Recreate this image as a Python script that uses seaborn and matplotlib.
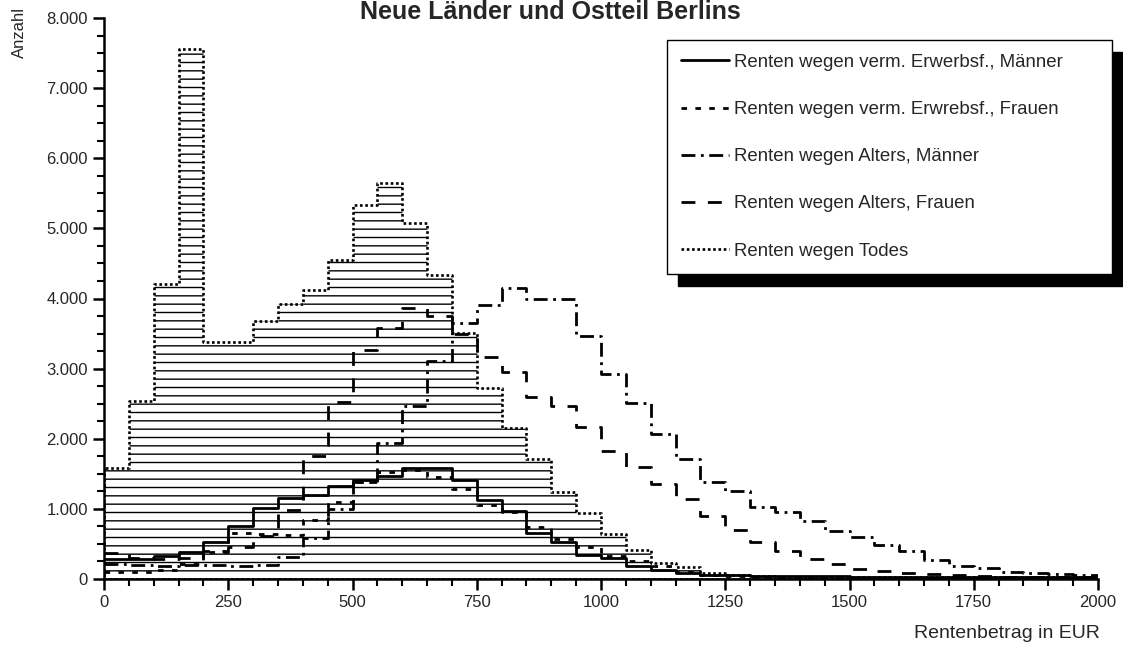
import numpy as np
import pandas as pd
import matplotlib
matplotlib.use('Agg')
import matplotlib.pyplot as plt
import seaborn as sns
from matplotlib.lines import Line2D
from matplotlib.ticker import MultipleLocator, FuncFormatter

# Bin left edges in EUR (50 EUR wide bins)
bin_lefts = list(range(0, 2000, 50))

# Counts per bin
erwerbsf_maenner = [280, 280, 330, 380, 530, 760, 1010, 1150, 1200, 1320,
                    1410, 1470, 1590, 1590, 1410, 1130, 970, 660, 530, 340,
                    300, 180, 130, 80, 60, 50, 45, 40, 40, 40,
                    35, 35, 30, 30, 30, 30, 30, 30, 30, 30]
erwerbsf_frauen = [100, 100, 130, 220, 390, 650, 640, 630, 840, 1100,
                   1380, 1520, 1550, 1460, 1280, 1060, 950, 740, 570, 460,
                   330, 250, 190, 100, 60, 40, 30, 30, 25, 25,
                   20, 20, 20, 20, 20, 20, 20, 20, 20, 20]
alter_maenner = [220, 200, 180, 200, 200, 180, 200, 310, 580, 1000,
                 1380, 1940, 2460, 3110, 3650, 3910, 4150, 3990, 3990, 3470,
                 2920, 2510, 2070, 1710, 1390, 1250, 1030, 960, 830, 690,
                 600, 480, 400, 270, 180, 150, 100, 80, 70, 50]
alter_frauen = [370, 300, 280, 300, 400, 450, 620, 980, 1750, 2530,
                3270, 3580, 3860, 3750, 3500, 3160, 2950, 2600, 2470, 2170,
                1830, 1600, 1350, 1140, 900, 700, 530, 400, 280, 210,
                140, 120, 80, 70, 50, 40, 30, 30, 30, 30]
todes = [1590, 2540, 4210, 7560, 3380, 3380, 3680, 3920, 4120, 4550,
         5330, 5650, 5080, 4340, 3510, 2720, 2150, 1710, 1240, 940,
         640, 410, 230, 170, 80, 50, 40, 30, 30, 30,
         30, 30, 30, 30, 30, 30, 30, 30, 30, 30]

labels = ['Renten wegen verm. Erwerbsf., Männer',
          'Renten wegen verm. Erwrebsf., Frauen',
          'Renten wegen Alters, Männer',
          'Renten wegen Alters, Frauen',
          'Renten wegen Todes']

edges = list(range(0, 2050, 50))
df = pd.DataFrame({'betrag': np.array(bin_lefts) + 25,
                   'em_m': erwerbsf_maenner, 'em_f': erwerbsf_frauen,
                   'al_m': alter_maenner, 'al_f': alter_frauen, 'tod': todes})

sns.set_style('ticks')
plt.rcParams['font.family'] = ['Liberation Sans', 'DejaVu Sans']
plt.rcParams['hatch.linewidth'] = 1.0
plt.rcParams['hatch.color'] = 'black'

fig = plt.figure(figsize=(11.23, 6.46), dpi=100)
ax = fig.add_axes([104 / 1123, 67 / 646, 994 / 1123, 561 / 646])

styles = {
    'em_m': dict(linestyle='-', linewidth=2.0),
    'em_f': dict(linestyle=(0, (2, 3)), linewidth=2.0),
    'al_m': dict(linestyle=(0, (5, 2, 1, 2)), linewidth=2.0),
    'al_f': dict(linestyle=(0, (5, 4.5)), linewidth=2.0),
    'tod': dict(linestyle=(0, (1, 1)), linewidth=1.9),
}

# Hatched step histogram for "Todes"
sns.histplot(data=df, x='betrag', weights='tod', bins=edges, element='step',
             fill=True, facecolor='white', edgecolor='black', hatch='--',
             ax=ax, **styles['tod'])

# Outline step histograms for the other four groups
for col in ['em_m', 'em_f', 'al_m', 'al_f']:
    sns.histplot(data=df, x='betrag', weights=col, bins=edges, element='step',
                 fill=False, color='black', ax=ax, **styles[col])

ax.set_xlim(0, 2000)
ax.set_ylim(0, 8000)
ax.set_xlabel('')
ax.set_ylabel('')
ax.xaxis.set_major_locator(MultipleLocator(250))
ax.xaxis.set_minor_locator(MultipleLocator(50))
ax.yaxis.set_major_locator(MultipleLocator(1000))
ax.yaxis.set_minor_locator(MultipleLocator(250))
ax.yaxis.set_major_formatter(FuncFormatter(lambda v, p: f'{int(v):,}'.replace(',', '.')))
ax.tick_params(which='major', length=8, width=1.8, labelsize=12, color='black')
ax.tick_params(which='minor', length=5, width=1.5, color='black')
for s in ['top', 'right']:
    ax.spines[s].set_visible(False)
for s in ['left', 'bottom']:
    ax.spines[s].set_linewidth(1.8)
    ax.spines[s].set_color('black')

handles = [Line2D([], [], color='black', **styles[k]) for k in ['em_m', 'em_f', 'al_m', 'al_f', 'tod']]
leg = ax.legend(handles, labels, loc='upper left', mode='expand',
                bbox_to_anchor=(563 / 994, 0.3, 445 / 994, 0.661),
                borderaxespad=0, fontsize=13.4, labelspacing=1.62,
                handlelength=2.6, handletextpad=0.25, borderpad=0.75,
                frameon=True, fancybox=False, framealpha=1,
                shadow={'color': 'black', 'alpha': 1, 'ox': 8, 'oy': -9})
leg.get_frame().set_edgecolor('black')
leg.get_frame().set_linewidth(1.0)

fig.text(550 / 1123, 1 - 19 / 646, 'Neue Länder und Ostteil Berlins',
         ha='center', va='baseline', fontsize=18, fontweight='bold')
fig.text(19 / 1123, 1 - 32 / 646, 'Anzahl', rotation=90, ha='center',
         va='center', fontsize=12)
fig.text(1100 / 1123, 1 - 634 / 646, 'Rentenbetrag in EUR', ha='right',
         va='center', fontsize=14)

fig.savefig('out.png', dpi=100, facecolor='white')
